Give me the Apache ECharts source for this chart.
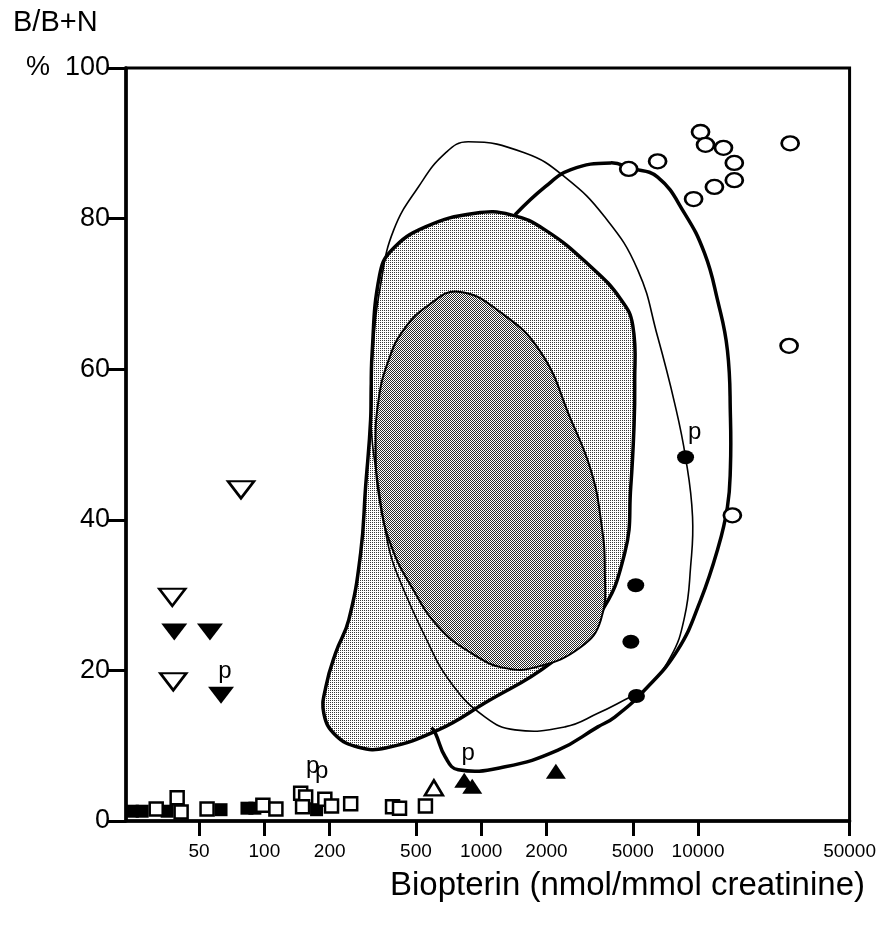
<!DOCTYPE html>
<html><head><meta charset="utf-8">
<script src="https://cdn.jsdelivr.net/npm/echarts@6/dist/echarts.min.js"></script>
<style>html,body{margin:0;padding:0;background:#fff}#c{width:879px;height:933px}</style>
</head><body><div id="c"></div>
<script>
// ---- axis ticks ----
const xTicks = [50, 100, 200, 500, 1000, 2000, 5000, 10000, 50000];
const yTicks = [0, 20, 40, 60, 80, 100];
const xMin = 23, xMax = 50000;

// ---- data points [biopterin, %B] ----
const openCircles = [[10270,91.5],[10830,89.8],[13100,89.4],[14700,87.4],[14700,85.1],[11900,84.2],[9540,82.6],[6510,87.6],[4790,86.6],[26600,90.0],[26300,63.1],[14400,40.6]];
const filledCircles = [[8760,48.3],[5160,31.3],[4900,23.8],[5200,16.6]];
const openDownTriangles = [[78,44.0],[37.6,29.7],[38,18.5]];
const filledDownTriangles = [[38.4,25.1],[56.1,25.1],[63.1,16.7]];
const openUpTriangles = [[605,4.4]];
const filledUpTriangles = [[835,5.4],[909,4.6],[2210,6.6]];
const filledSquares = [[24.6,1.3],[27.3,1.3],[35.6,1.3],[63.1,1.5],[83.1,1.7],[90.4,1.7],[174,1.5]];
const openSquares = [[31.7,1.6],[39.6,3.1],[41.3,1.2],[54.4,1.6],[98.4,2.1],[113,1.6],[147,3.7],[155,3.2],[150,1.9],[190,2.9],[204,2.0],[250,2.3],[390,1.9],[420,1.7],[553,2.0]];
// points marked "p"
const pMarked = [['filledCircles',0],['filledDownTriangles',2],['filledUpTriangles',0],['openSquares',6],['openSquares',7]];

// ---- contours [biopterin, %B] ----
const lightRegion = [[938,80.7],[1373,80.5],[1969,78.5],[3204,73.6],[4400,69.3],[5000,65.8],[5105,58.0],[5060,52.0],[4895,44.4],[4593,35.6],[3451,27.1],[2098,21.0],[1043,15.7],[634,12.1],[362,9.7],[272,9.8],[213,11.4],[188,14.3],[192,17.8],[213,22.3],[245,26.7],[278,35.6],[293,44.4],[309,53.3],[314,62.2],[340,72.5],[386,75.8],[553,78.9]];
const darkRegion = [[784,70.3],[1236,67.5],[1888,62.2],[2593,53.3],[3204,46.6],[3563,40.0],[3717,33.3],[3563,26.7],[2883,23.1],[1829,20.5],[1289,20.3],[900,22.3],[634,25.8],[477,31.1],[386,36.4],[340,42.6],[326,49.3],[336,55.9],[374,61.2],[438,65.2],[571,68.5]];
const thinContour = [[871,90.2],[1593,88.7],[2434,85.5],[3717,80.2],[5270,73.2],[6513,64.3],[7798,55.5],[8760,48.3],[9434,40.4],[9237,33.7],[8668,27.1],[7474,21.8],[5675,17.4],[4895,16.5],[3451,14.3],[2434,12.5],[1433,12.1],[1043,13.8],[728,18.3],[553,24.4],[415,32.4],[374,36.4],[336,44.4],[310,53.0],[318,63.0],[345,71.5],[395,78.5],[513,84.2],[683,88.7]];
const thickContour = [[589,12.4],[614,11.7],[683,8.5],[784,6.8],[1289,7.2],[2259,9.4],[3451,12.5],[4131,13.8],[5675,17.4],[8049,22.7],[10268,29.3],[12295,36.0],[13665,41.7],[14106,47.0],[14106,53.7],[13665,62.5],[12295,69.2],[10713,75.4],[8668,80.7],[6513,85.5],[4895,86.7],[3960,87.4],[2593,86.5],[1969,84.2],[1433,80.5]];

const FONT = '"Liberation Sans", Arial, Helvetica, sans-serif';
const L = Math.log10;

function makePattern(size, dots, color) {
  const c = document.createElement('canvas');
  c.width = c.height = size;
  const ctx = c.getContext('2d');
  ctx.fillStyle = '#fff'; ctx.fillRect(0, 0, size, size);
  ctx.fillStyle = color;
  dots.forEach(d => ctx.fillRect(d[0], d[1], 1, 1));
  return c;
}
const lightPat = makePattern(2, [[0,0]], '#3a3a3a');
const darkPat = makePattern(2, [[0,0],[1,1]], '#2a2a2a');

function contour(points, closed, fill, lw, z) {
  return {
    type: 'custom', coordinateSystem: 'cartesian2d', silent: true, z: z, clip: true,
    data: [[L(points[0][0]), points[0][1]]],
    renderItem: function (params, api) {
      const pts = points.map(p => api.coord([L(p[0]), p[1]]));
      return {
        type: closed ? 'polygon' : 'polyline',
        shape: { points: pts, smooth: 0.45 },
        style: { fill: fill ? { image: fill, repeat: 'repeat' } : 'none', stroke: '#000', lineWidth: lw, lineJoin: 'round' }
      };
    }
  };
}

const pOffsets = { 'filledCircles,0': [9,-25], 'filledDownTriangles,2': [4,-24], 'filledUpTriangles,0': [4,-27], 'openSquares,6': [12,-27], 'openSquares,7': [16,-26] };

function scatter(name, pts, symbol, size, filled, rotate, z) {
  return {
    type: 'scatter', name: name, z: z, silent: true,
    symbol: symbol, symbolSize: size, symbolRotate: rotate || 0,
    itemStyle: { color: filled ? '#000' : '#fff', borderColor: '#000', borderWidth: filled ? 0 : 2.5, opacity: 1 },
    data: pts.map((p, i) => {
      const item = { value: [L(p[0]), p[1]] };
      const marked = pMarked.some(m => m[0] === name && m[1] === i);
      if (marked) {
        item.label = { show: true, position: 'inside', offset: pOffsets[name + ',' + i], formatter: 'p',
          fontSize: 24, color: '#000', fontFamily: FONT };
      }
      return item;
    })
  };
}

const chart = echarts.init(document.getElementById('c'), null, { renderer: 'canvas' });
chart.setOption({
  animation: false,
  backgroundColor: '#fff',
  grid: { left: 126, right: 27, top: 68, bottom: 112, show: true, borderColor: '#000', borderWidth: 3, backgroundColor: 'transparent' },
  xAxis: {
    type: 'value', min: L(xMin), max: L(xMax),
    splitLine: { show: false },
    axisLine: { show: true, onZero: false, lineStyle: { color: '#000', width: 3.5 } },
    axisTick: { show: true, customValues: xTicks.map(L), length: 15, lineStyle: { color: '#000', width: 3 } },
    axisLabel: { customValues: xTicks.map(L), formatter: v => String(Math.round(Math.pow(10, v))),
      fontSize: 19, color: '#000', margin: 21, fontFamily: FONT }
  },
  yAxis: {
    type: 'value', min: 0, max: 100, interval: 20,
    splitLine: { show: false },
    axisLine: { show: true, onZero: false, lineStyle: { color: '#000', width: 3.5 } },
    axisTick: { show: true, length: 18, lineStyle: { color: '#000', width: 3 } },
    axisLabel: { fontSize: 27, color: '#000', margin: 16, fontFamily: FONT,
      formatter: v => (v === 100 ? '%  ' + v : String(v)) }
  },
  graphic: [
    { type: 'text', left: 13, top: 8, style: { text: 'B/B+N', fontSize: 29, fill: '#000', fontFamily: FONT } },
    { type: 'text', right: 14, top: 869, style: { text: 'Biopterin (nmol/mmol creatinine)', fontSize: 33, fill: '#000', fontFamily: FONT } }
  ],
  series: [
    contour(lightRegion, true, lightPat, 3.5, 1),
    contour(darkRegion, true, darkPat, 2, 2),
    contour(thinContour, true, null, 1.6, 3),
    contour(thickContour, false, null, 3.5, 4),
    scatter('filledSquares', filledSquares, 'rect', [13,13], true, 0, 5),
    scatter('openSquares', openSquares, 'rect', [13,13], false, 0, 6),
    scatter('openDownTriangles', openDownTriangles, 'triangle', [26,17], false, 180, 6),
    scatter('filledDownTriangles', filledDownTriangles, 'triangle', [26,17], true, 180, 6),
    scatter('openUpTriangles', openUpTriangles, 'triangle', [18,15], false, 0, 6),
    scatter('filledUpTriangles', filledUpTriangles, 'triangle', [20,15], true, 0, 6),
    scatter('openCircles', openCircles, 'circle', [17,14], false, 0, 7),
    scatter('filledCircles', filledCircles, 'circle', [17,14], true, 0, 7)
  ]
});
</script></body></html>
